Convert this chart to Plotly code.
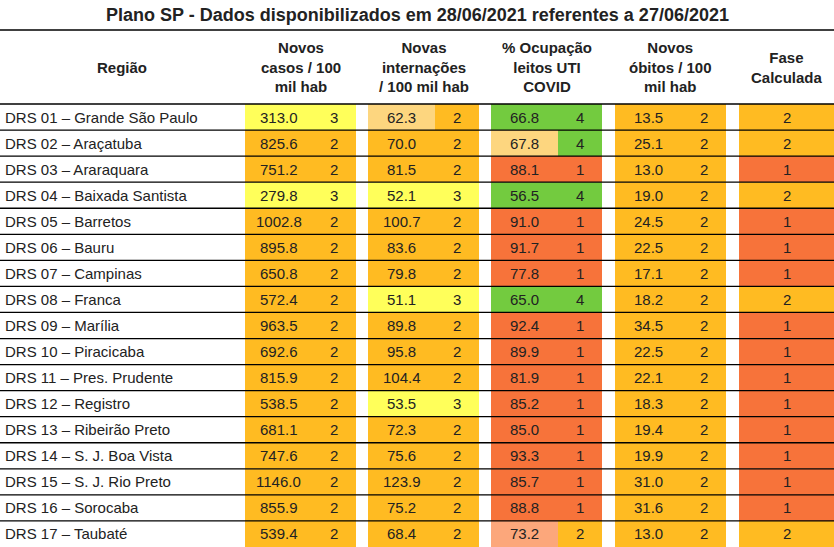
import plotly.graph_objects as go

regioes = ["DRS 01 – Grande São Paulo", "DRS 02 – Araçatuba", "DRS 03 – Araraquara",
           "DRS 04 – Baixada Santista", "DRS 05 – Barretos", "DRS 06 – Bauru",
           "DRS 07 – Campinas", "DRS 08 – Franca", "DRS 09 – Marília",
           "DRS 10 – Piracicaba", "DRS 11 – Pres. Prudente", "DRS 12 – Registro",
           "DRS 13 – Ribeirão Preto", "DRS 14 – S. J. Boa Vista", "DRS 15 – S. J. Rio Preto",
           "DRS 16 – Sorocaba", "DRS 17 – Taubaté"]

casos = [313.0, 825.6, 751.2, 279.8, 1002.8, 895.8, 650.8, 572.4, 963.5, 692.6, 815.9,
         538.5, 681.1, 747.6, 1146.0, 855.9, 539.4]
casos_fase = [3, 2, 2, 3, 2, 2, 2, 2, 2, 2, 2, 2, 2, 2, 2, 2, 2]
casos_cor = casos_fase

intern = [62.3, 70.0, 81.5, 52.1, 100.7, 83.6, 79.8, 51.1, 89.8, 95.8, 104.4, 53.5, 72.3,
          75.6, 123.9, 75.2, 68.4]
intern_fase = [2, 2, 2, 3, 2, 2, 2, 3, 2, 2, 2, 3, 2, 2, 2, 2, 2]
intern_cor = ["2L"] + intern_fase[1:]

uti = [66.8, 67.8, 88.1, 56.5, 91.0, 91.7, 77.8, 65.0, 92.4, 89.9, 81.9, 85.2, 85.0, 93.3,
       85.7, 88.8, 73.2]
uti_fase = [4, 4, 1, 4, 1, 1, 1, 4, 1, 1, 1, 1, 1, 1, 1, 1, 2]
uti_cor = [4, "2L", 1, 4, 1, 1, 1, 4, 1, 1, 1, 1, 1, 1, 1, 1, "1L"]

obitos = [13.5, 25.1, 13.0, 19.0, 24.5, 22.5, 17.1, 18.2, 34.5, 22.5, 22.1, 18.3, 19.4,
          19.9, 31.0, 31.6, 13.0]
obitos_fase = [2] * 17
obitos_cor = obitos_fase

fase_calc = [2, 2, 1, 2, 1, 1, 1, 2, 1, 1, 1, 1, 1, 1, 1, 1, 2]

cabecalhos = ["Novos<br>casos / 100<br>mil hab", "Novas<br>internações<br>/ 100 mil hab",
              "% Ocupação<br>leitos UTI<br>COVID", "Novos<br>óbitos / 100<br>mil hab"]

cores = {1: "#F7733A", 2: "#FFBB22", 3: "#FFFF5A", 4: "#73CB3F",
         "2L": "#FDD67F", "1L": "#FCA77B"}

W, H = 834, 547
top_rows = 104
row_h = (H - top_rows) / len(regioes)
col_starts = [245, 368, 491, 615]
val_w, blk_w = 67, 111
fase_x0 = 739
font = "Liberation Sans, Arial, sans-serif"

fig = go.Figure()
shapes, ann = [], []

metricas = [(casos, casos_fase, casos_cor), (intern, intern_fase, intern_cor),
            (uti, uti_fase, uti_cor), (obitos, obitos_fase, obitos_cor)]

for i, reg in enumerate(regioes):
    y0 = top_rows + i * row_h
    y1 = y0 + row_h
    yc = (y0 + y1) / 2
    ann.append(dict(x=3, y=yc, text=reg, xanchor="left", showarrow=False))
    for (vals, fases, cor), x0 in zip(metricas, col_starts):
        shapes.append(dict(type="rect", x0=x0, x1=x0 + val_w, y0=y0, y1=y1,
                           fillcolor=cores[cor[i]], line_width=0, layer="below"))
        shapes.append(dict(type="rect", x0=x0 + val_w, x1=x0 + blk_w, y0=y0, y1=y1,
                           fillcolor=cores[fases[i]], line_width=0, layer="below"))
        ann.append(dict(x=x0 + val_w / 2, y=yc, text=f"{vals[i]:.1f}", showarrow=False))
        ann.append(dict(x=x0 + val_w + (blk_w - val_w) / 2, y=yc, text=str(fases[i]),
                        showarrow=False))
    shapes.append(dict(type="rect", x0=fase_x0, x1=W, y0=y0, y1=y1,
                       fillcolor=cores[fase_calc[i]], line_width=0, layer="below"))
    ann.append(dict(x=(fase_x0 + W) / 2, y=yc, text=str(fase_calc[i]), showarrow=False))
    shapes.append(dict(type="line", x0=0, x1=W, y0=y0, y1=y0,
                       line=dict(color="black", width=1.3)))

shapes.append(dict(type="line", x0=0, x1=W, y0=30, y1=30, line=dict(color="black", width=1.3)))

hy = (30 + top_rows) / 2
ann.append(dict(x=122, y=hy, text="<b>Região</b>", showarrow=False))
for txt, x0 in zip(cabecalhos, col_starts):
    ann.append(dict(x=x0 + blk_w / 2, y=hy, text=f"<b>{txt}</b>", showarrow=False))
ann.append(dict(x=(fase_x0 + W) / 2, y=hy, text="<b>Fase<br>Calculada</b>", showarrow=False))
ann.append(dict(x=W / 2, y=15, text="<b>Plano SP - Dados disponibilizados em 28/06/2021 referentes a 27/06/2021</b>",
                showarrow=False, font=dict(size=18)))

for a in ann:
    a.setdefault("font", dict(size=15))
    a["font"]["color"] = "#222"
    a["font"]["family"] = font
    a["xref"] = "x"
    a["yref"] = "y"

fig.update_layout(
    width=W, height=H, margin=dict(l=0, r=0, t=0, b=0),
    plot_bgcolor="white", paper_bgcolor="white",
    xaxis=dict(range=[0, W], visible=False, fixedrange=True),
    yaxis=dict(range=[H, 0], visible=False, fixedrange=True),
    shapes=shapes, annotations=ann, showlegend=False,
)

fig.write_html("out.html", config={"displayModeBar": False},
               post_script="document.body.style.margin='0';document.body.style.overflow='hidden';")
